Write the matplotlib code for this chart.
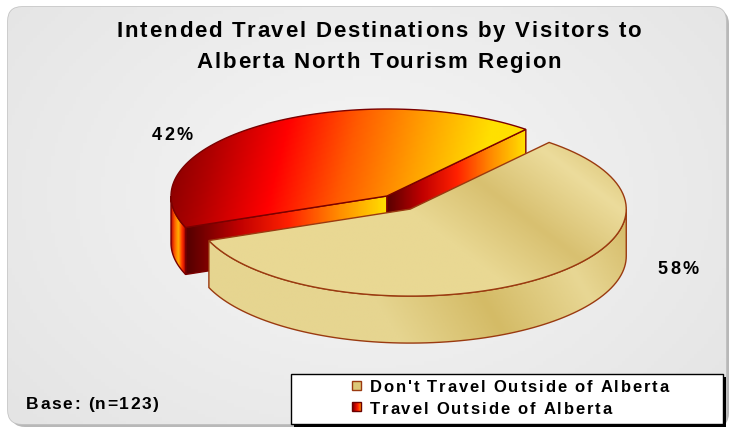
import matplotlib
matplotlib.use("Agg")
import matplotlib.pyplot as plt
import numpy as np
from matplotlib import font_manager, ft2font
from matplotlib.colors import LinearSegmentedColormap
from matplotlib.patches import FancyBboxPatch, Polygon, Rectangle

TITLE_LINES = ["Intended Travel Destinations by Visitors to", "Alberta North Tourism Region"]
CATEGORIES = ["Don't Travel Outside of Alberta", "Travel Outside of Alberta"]
SHARES = [58, 42]
BASE_NOTE = "Base: (n=123)"

# pie geometry in pixel units (y grows downward)
CX, CY = 387, 197
RX, RY = 216, 87
DEPTH = 47
START_ANGLE = 50.0
EXPLODE = 0.185

FONT = "Liberation Sans"
PX_PER_PT = 100 / 72

RED_TOP = ["#6a0000", "#b00000", "#ff0000", "#ff5a00", "#ffa000", "#ffe000"]
RED_SIDE = ["#5a0000", "#c00000", "#ff2000", "#ff8a00", "#ffe000"]
RED_WALL = ["#c00000", "#ff6000", "#ffb000", "#ff3000", "#a00000"]
TAN_TOP = ["#e9d893", "#d8c070", "#ecdc9c", "#d2b862", "#e4d288", "#cdb25a"]
TAN_SIDE = ["#e6d590", "#d4bb66", "#e8d794", "#cfb35c", "#dcc678"]


def arc(cx, cy, a0, a1, n=90):
    t = np.radians(np.linspace(a0, a1, n))
    return np.column_stack([cx + RX * np.cos(t), cy - RY * np.sin(t)])


def shade(ax, verts, stops, span, direction, edge, z, lw=1.0):
    verts = np.asarray(verts)
    poly = Polygon(verts, closed=True, facecolor="none", edgecolor=edge, lw=lw, zorder=z + 0.5)
    ax.add_patch(poly)
    x0, y0 = verts.min(axis=0)
    x1, y1 = verts.max(axis=0)
    gx, gy = np.meshgrid(np.linspace(x0, x1, 240), np.linspace(y0, y1, 120))
    proj = gx * direction[0] + gy * direction[1]
    vals = np.clip((proj - span[0]) / (span[1] - span[0]), 0, 1)
    cmap = LinearSegmentedColormap.from_list("g", stops)
    img = ax.imshow(vals, cmap=cmap, vmin=0, vmax=1, extent=(x0, x1, y1, y0),
                    aspect="auto", interpolation="bilinear", zorder=z)
    img.set_clip_path(poly)


def advances(s, size):
    prop = font_manager.FontProperties(family=FONT, weight="bold")
    font = ft2font.FT2Font(font_manager.findfont(prop))
    font.set_size(size, 72)
    return [font.load_char(ord(c)).linearHoriAdvance / 65536 * PX_PER_PT for c in s]


def spaced_text(ax, x, y, s, size, extra, ha="left", z=8):
    # letter-spaced bold text, y is the baseline
    adv = advances(s, size)
    total = sum(adv) + extra * (len(s) - 1)
    if ha == "center":
        x -= total / 2
    for c, a in zip(s, adv):
        if c != " ":
            ax.text(x, y, c, ha="left", va="baseline", fontsize=size, fontweight="bold",
                    family=FONT, color="black", zorder=z)
        x += a + extra


fig = plt.figure(figsize=(7.33, 4.31), dpi=100, facecolor="white")
ax = fig.add_axes([0, 0, 1, 1])
ax.set_axis_off()

# rounded panel with a soft grey wash
ax.add_patch(FancyBboxPatch((11, 11), 718, 417, boxstyle="round,pad=0,rounding_size=14",
                            fc="#b8b8b8", ec="none", zorder=0))
panel = FancyBboxPatch((8, 8), 718, 417, boxstyle="round,pad=0,rounding_size=14",
                       fc="#eeeeee", ec="#c4c4c4", lw=1.2, zorder=1)
ax.add_patch(panel)
gx, gy = np.meshgrid(np.linspace(0, 1, 200), np.linspace(0, 1, 120))
wash = np.hypot(gx - 0.5, (gy - 0.45) * 0.8)
bg = ax.imshow(wash, cmap=LinearSegmentedColormap.from_list("bg", ["#f6f6f6", "#e4e4e4"]),
               extent=(8, 726, 425, 8), aspect="auto", zorder=1.1)
bg.set_clip_path(panel)

fractions = np.array(SHARES, dtype=float) / sum(SHARES)
red_a0 = START_ANGLE
red_a1 = START_ANGLE + 360 * fractions[1]
tan_a0, tan_a1 = red_a1, START_ANGLE + 360

# outside-of-Alberta slice stays at the centre
rc = (CX, CY)
r_edge_a = arc(CX, CY, red_a0, red_a0, 1)[0]
r_edge_b = arc(CX, CY, red_a1, red_a1, 1)[0]
d = np.array([0, DEPTH])
face_a = [rc, r_edge_a, r_edge_a + d, np.array(rc) + d]
shade(ax, face_a, RED_SIDE, (CX, r_edge_a[0]), (1, 0), "#7a0000", 3)
face_b = [r_edge_b, rc, np.array(rc) + d, r_edge_b + d]
shade(ax, face_b, RED_SIDE, (r_edge_b[0] + 3, CX), (1, 0), "#7a0000", 3)
lo, hi = max(red_a0, 180), min(red_a1, 360)
wall = np.vstack([arc(CX, CY, lo, hi), arc(CX, CY, hi, lo) + d])
shade(ax, wall, RED_WALL, (CX - RX, r_edge_b[0]), (1, 0), "#7a0000", 3)
red_top = np.vstack([[rc], arc(CX, CY, red_a0, red_a1)])
shade(ax, red_top, RED_TOP, (CX - RX + 10, r_edge_a[0]), (1, 0.25), "#7a0000", 4)

# exploded slice for visitors staying in Alberta
mid = np.radians((tan_a0 + tan_a1) / 2)
tx = CX + EXPLODE * RX * np.cos(mid)
ty = CY - EXPLODE * RY * np.sin(mid)
lo, hi = max(tan_a0, 180), min(tan_a1, 360)
wall = np.vstack([arc(tx, ty, lo, hi), arc(tx, ty, hi, lo) + d])
shade(ax, wall, TAN_SIDE, (tx - RX, tx + RX), (1, -0.6), "#9a3a10", 5)
tan_top = np.vstack([[(tx, ty)], arc(tx, ty, tan_a0, tan_a1)])
shade(ax, tan_top, TAN_TOP, (tx - RX - 60, tx + RX + 40), (1, -1.3), "#9a3a10", 6)

# percentage labels
spaced_text(ax, 172, 140.5, f"{SHARES[1]}%", 13, 2.0, ha="center")
spaced_text(ax, 678, 274.5, f"{SHARES[0]}%", 13, 2.0, ha="center")

for line, y in zip(TITLE_LINES, (37, 68)):
    spaced_text(ax, 379, y, line, 16, 1.75, ha="center")

spaced_text(ax, 26, 409, BASE_NOTE, 12.5, 1.6)

# legend box with drop shadow
ax.add_patch(Rectangle((294, 378), 432, 50, fc="black", ec="none", zorder=7))
ax.add_patch(Rectangle((291, 375), 432, 50, fc="white", ec="black", lw=1.0, zorder=7.2))
ax.add_patch(Rectangle((352, 382), 9, 9, fc="#dcc878", ec="#9a3a10", lw=1.0, zorder=7.5))
shade(ax, [(352, 403), (361, 403), (361, 412), (352, 412)], RED_SIDE[:4], (352, 361),
      (1, 0), "#6a0000", 7.4)
for label, y in zip(CATEGORIES, (392.5, 414)):
    spaced_text(ax, 370, y, label, 12, 1.8)

ax.set_xlim(0, 733)
ax.set_ylim(431, 0)
fig.savefig("out.png", dpi=100, facecolor="white")
